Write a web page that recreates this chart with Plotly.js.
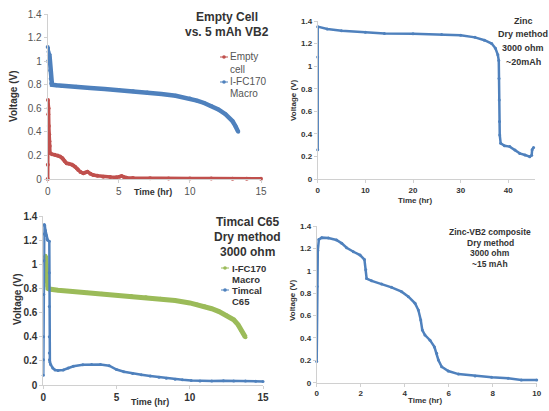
<!DOCTYPE html>
<html>
<head>
<meta charset="utf-8">
<script src="https://cdn.plot.ly/plotly-3.0.1.min.js"></script>
<style>html,body{margin:0;padding:0;background:#fff}#chart{width:549px;height:411px}</style>
</head>
<body>
<div id="chart"></div>
<script>
// Panel 1: Empty Cell vs. 5 mAh VB2
var p1EmptyT = [0, 0.01, 0.02, 0.04, 0.06, 0.08, 0.1, 0.12, 0.14, 0.16, 0.3, 0.5, 0.7, 0.87, 1.0, 1.1, 1.2, 1.33, 1.5, 1.69, 1.8, 1.92, 2.05, 2.15, 2.3, 2.5, 2.65, 2.8, 3.0, 3.2, 3.5, 3.9, 4.4, 4.85, 5.05, 5.2, 5.35, 5.55, 6.0, 7.2, 8.5, 10, 11.5, 13, 14, 15];
var p1EmptyV = [0.0, 0.12, 0.67, 0.55, 0.6, 0.45, 0.38, 0.32, 0.28, 0.22, 0.21, 0.205, 0.2, 0.19, 0.18, 0.167, 0.15, 0.133, 0.13, 0.124, 0.115, 0.105, 0.09, 0.076, 0.06, 0.048, 0.055, 0.062, 0.045, 0.034, 0.027, 0.02, 0.016, 0.014, 0.02, 0.025, 0.018, 0.011, 0.009, 0.006, 0.005, 0.004, 0.004, 0.003, 0.003, 0.003];
var p1MacroT = [0, 0.03, 0.06, 0.09, 0.12, 0.15, 0.18, 0.21, 0.25, 0.3, 0.6, 1, 2, 3, 4, 5, 6, 7, 8, 9, 10, 10.5, 11, 11.5, 12, 12.5, 13, 13.2, 13.4];
var p1MacroV = [1.12, 1.0, 1.08, 1.05, 1.06, 1.0, 0.92, 0.85, 0.81, 0.8, 0.795, 0.79, 0.782, 0.773, 0.764, 0.755, 0.745, 0.734, 0.722, 0.706, 0.682, 0.665, 0.645, 0.62, 0.59, 0.55, 0.49, 0.45, 0.40];

// Panel 2: Zinc, Dry method, 3000 ohm, ~20mAh
var p2ZincT = [0, 0, 0, 2, 5, 10, 14, 20, 26, 30, 33, 35, 36.5, 37.3, 37.8, 38.0, 38.05, 38.1, 38.15, 38.2, 38.4, 39.2, 40.3, 41.4, 42.4, 43.5, 44.5, 44.9, 45.0, 45.3];
var p2ZincV = [0.26, 1.08, 1.35, 1.33, 1.314, 1.30, 1.29, 1.288, 1.28, 1.273, 1.255, 1.23, 1.2, 1.158, 1.10, 1.05, 0.89, 0.70, 0.51, 0.39, 0.316, 0.295, 0.287, 0.257, 0.227, 0.213, 0.198, 0.21, 0.26, 0.28];

// Panel 3: Timcal C65, Dry method, 3000 ohm
var p3MacroT = [0.15, 0.2, 0.25, 0.28, 0.32, 0.4, 0.6, 1, 2, 3, 4, 5, 6, 7, 8, 9, 10, 10.5, 11, 11.5, 12, 12.5, 13, 13.3, 13.5, 13.8];
var p3MacroV = [1.07, 1.0, 0.9, 0.82, 0.80, 0.795, 0.79, 0.785, 0.775, 0.765, 0.755, 0.746, 0.737, 0.727, 0.715, 0.70, 0.68, 0.667, 0.652, 0.632, 0.608, 0.578, 0.54, 0.5, 0.456, 0.395];
var p3TimcalT = [0, 0.01, 0.02, 0.03, 0.04, 0.05, 0.07, 0.1, 0.15, 0.2, 0.25, 0.3, 0.41, 0.41, 0.41, 0.41, 0.41, 0.42, 0.45, 0.5, 0.65, 0.8, 1.0, 1.36, 1.7, 2.05, 2.7, 3.3, 3.9, 4.5, 5.0, 5.5, 6.1, 6.7, 7.3, 7.9, 8.4, 9.0, 9.5, 10.1, 10.7, 11.5, 12.3, 13.0, 13.8, 14.5, 15];
var p3TimcalV = [0.08, 0.21, 0.4, 0.75, 1.03, 1.25, 1.33, 1.32, 1.28, 1.24, 1.21, 1.2, 1.19, 0.93, 0.65, 0.4, 0.265, 0.21, 0.19, 0.17, 0.14, 0.125, 0.12, 0.125, 0.14, 0.155, 0.167, 0.17, 0.17, 0.16, 0.128, 0.11, 0.095, 0.085, 0.075, 0.065, 0.055, 0.048, 0.043, 0.038, 0.034, 0.034, 0.036, 0.034, 0.033, 0.031, 0.03];

// Panel 4: Zinc-VB2 composite, Dry method, 3000 ohm, ~15 mAh
var p4CompT = [0, 0.02, 0.05, 0.1, 0.23, 0.53, 0.9, 1.14, 1.36, 1.67, 1.97, 2.17, 2.23, 2.27, 2.5, 2.95, 3.4, 3.86, 4.17, 4.47, 4.62, 4.73, 4.8, 4.92, 5.15, 5.35, 5.45, 5.53, 5.68, 5.98, 6.44, 7.2, 7.95, 8.7, 9.3, 10];
var p4CompV = [0.19, 0.86, 1.18, 1.28, 1.296, 1.293, 1.275, 1.245, 1.206, 1.17, 1.14, 1.10, 1.01, 0.93, 0.91, 0.882, 0.852, 0.813, 0.769, 0.709, 0.649, 0.56, 0.47, 0.426, 0.38, 0.32, 0.262, 0.203, 0.143, 0.104, 0.077, 0.06, 0.048, 0.039, 0.024, 0.024];

var yTicks = [0, 0.2, 0.4, 0.6, 0.8, 1, 1.2, 1.4];

var BLUE = '#4F81BD', RED = '#C0504D', GREEN = '#9BBB59';
var W = 549, H = 411;
function px(x) { return x / W; }
function py(y) { return 1 - y / H; }

function tr(x, y, name, color, lw, ms, xa, ya) {
  return {
    x: x, y: y, name: name, type: 'scatter', mode: 'lines+markers',
    line: {color: color, width: lw}, marker: {color: color, size: ms},
    xaxis: xa, yaxis: ya, showlegend: false, cliponaxis: false
  };
}

var traces = [
  tr(p1EmptyT, p1EmptyV, 'Empty cell', RED, 3.5, 4, 'x', 'y'),
  tr(p1MacroT, p1MacroV, 'I-FC170 Macro', BLUE, 4.5, 4, 'x', 'y'),
  tr(p2ZincT, p2ZincV, 'Zinc', BLUE, 2.5, 3, 'x2', 'y2'),
  tr(p3MacroT, p3MacroV, 'I-FC170 Macro', GREEN, 5, 4, 'x3', 'y3'),
  tr(p3TimcalT, p3TimcalV, 'Timcal C65', BLUE, 2.5, 3, 'x3', 'y3'),
  tr(p4CompT, p4CompV, 'Zinc-VB2 composite', BLUE, 2.5, 3, 'x4', 'y4')
];

var FONT = 'Liberation Sans, Arial, sans-serif';
function xax(dom, anchor, range, tv, fs, col, bold) {
  return {
    domain: dom, anchor: anchor, range: range, tickvals: tv,
    showgrid: false, zeroline: false, showline: true, linecolor: '#d0d0d0', linewidth: 1,
    ticks: 'outside', ticklen: 3, tickcolor: '#d0d0d0',
    tickfont: {family: FONT, size: fs, color: col, weight: bold ? 'bold' : 'normal'},
    fixedrange: true
  };
}
function yax(dom, anchor, fs, col, bold) {
  return {
    domain: dom, anchor: anchor, range: [0, 1.4], tickvals: yTicks,
    showgrid: false, zeroline: false, showline: true, linecolor: '#d0d0d0', linewidth: 1,
    ticks: 'outside', ticklen: 3, tickcolor: '#d0d0d0',
    tickfont: {family: FONT, size: fs, color: col, weight: bold ? 'bold' : 'normal'},
    fixedrange: true
  };
}

function ann(x, y, text, size, color, bold, angle, xanchor) {
  return {
    xref: 'paper', yref: 'paper', x: px(x), y: py(y), text: text, showarrow: false,
    xanchor: xanchor || 'center', yanchor: 'middle', align: 'left',
    textangle: angle || 0,
    font: {family: FONT, size: size, color: color, weight: bold ? 'bold' : 'normal'}
  };
}

// legend keys (small line + dot), drawn as paper shapes
function keyShapes(x, y, color, w) {
  return [
    {type: 'line', xref: 'paper', yref: 'paper', x0: px(x - 4), x1: px(x + 4), y0: py(y), y1: py(y),
     line: {color: color, width: w}},
    {type: 'circle', xref: 'paper', yref: 'paper', x0: px(x - 1.8), x1: px(x + 1.8), y0: py(y - 1.8), y1: py(y + 1.8),
     fillcolor: color, line: {color: color, width: 0}}
  ];
}

var layout = {
  width: W, height: H,
  margin: {l: 0, r: 0, t: 0, b: 0},
  paper_bgcolor: '#ffffff', plot_bgcolor: 'rgba(0,0,0,0)',
  font: {family: FONT},
  showlegend: false,
  xaxis: xax([px(47.7), px(261)], 'y', [0, 15], [0, 5, 10, 15], 10, '#555', false),
  yaxis: yax([py(179), py(14)], 'x', 10, '#555', false),
  xaxis2: xax([px(317.7), px(535)], 'y2', [0, 45.6], [0, 10, 20, 30, 40], 8, '#333', true),
  yaxis2: yax([py(179), py(21)], 'x2', 8, '#333', true),
  xaxis3: xax([px(43.3), px(263)], 'y3', [0, 15], [0, 5, 10, 15], 10, '#333', true),
  yaxis3: yax([py(385), py(216)], 'x3', 10, '#333', true),
  xaxis4: xax([px(316.7), px(536.7)], 'y4', [0, 10], [0, 2, 4, 6, 8, 10], 8, '#333', true),
  yaxis4: yax([py(382.7), py(226)], 'x4', 8, '#333', true),
  shapes: [].concat(
    keyShapes(224, 57, RED, 1),
    keyShapes(224, 82, BLUE, 1),
    keyShapes(225, 268, GREEN, 1),
    keyShapes(225, 290, BLUE, 1)
  ),
  annotations: [
    ann(227, 17, 'Empty Cell', 12, '#333', true),
    ann(227, 32, 'vs. 5 mAh VB2', 12, '#333', true),
    ann(228, 57, 'Empty', 10, '#555', false, 0, 'left'),
    ann(228, 69, 'cell', 10, '#555', false, 0, 'left'),
    ann(228, 82, 'I-FC170', 10, '#555', false, 0, 'left'),
    ann(228, 94, 'Macro', 10, '#555', false, 0, 'left'),
    ann(153, 192, 'Time (hr)', 9, '#333', true),
    ann(13, 97, 'Voltage (V)', 10, '#333', true, -90),
    ann(523, 21, 'Zinc', 9, '#333', true),
    ann(523, 34.5, 'Dry method', 9, '#333', true),
    ann(523, 48, '3000 ohm', 9, '#333', true),
    ann(523, 62, '~20mAh', 9, '#333', true),
    ann(415, 200, 'Time (hr)', 8, '#333', true),
    ann(293, 100, 'Voltage (V)', 8, '#333', true, -90),
    ann(247, 222, 'Timcal C65', 12, '#333', true),
    ann(247, 237, 'Dry method', 12, '#333', true),
    ann(247, 252, '3000 ohm', 12, '#333', true),
    ann(230, 268, 'I-FC170', 9.5, '#333', true, 0, 'left'),
    ann(230, 279, 'Macro', 9.5, '#333', true, 0, 'left'),
    ann(230, 290, 'Timcal', 9.5, '#333', true, 0, 'left'),
    ann(230, 301, 'C65', 9.5, '#333', true, 0, 'left'),
    ann(150, 402, 'Time (hr)', 9, '#333', true),
    ann(17, 300, 'Voltage (V)', 10, '#333', true, -90),
    ann(490, 232, 'Zinc-VB2 composite', 8.5, '#333', true),
    ann(490, 242.5, 'Dry method', 8.5, '#333', true),
    ann(490, 253, '3000 ohm', 8.5, '#333', true),
    ann(490, 263.5, '~15 mAh', 8.5, '#333', true),
    ann(425, 400, 'Time (hr)', 8, '#333', true),
    ann(292, 300, 'Voltage (V)', 8, '#333', true, -90)
  ]
};

Plotly.newPlot('chart', traces, layout, {staticPlot: true, displayModeBar: false});
</script>
</body>
</html>
